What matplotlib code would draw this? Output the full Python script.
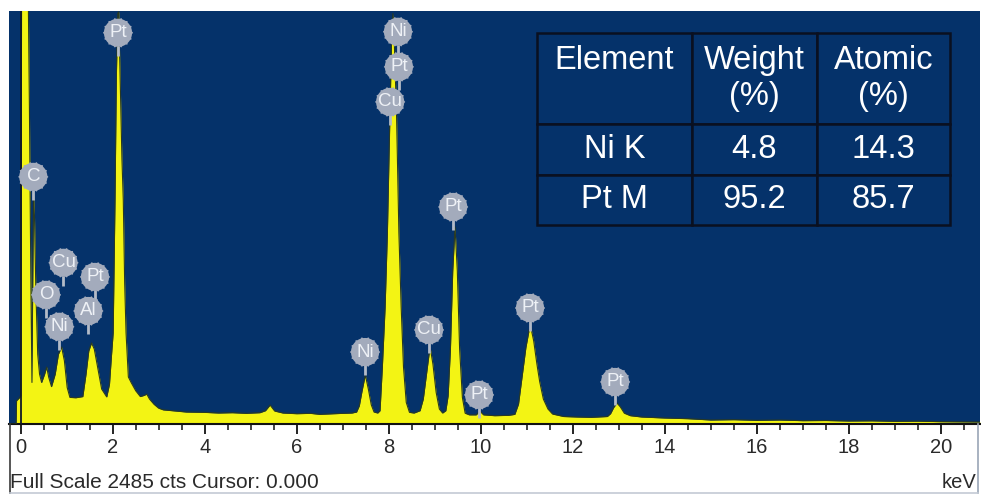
import numpy as np
import matplotlib.pyplot as plt
from matplotlib.lines import Line2D
from matplotlib.path import Path
from matplotlib.transforms import offset_copy

plt.rcParams["font.family"] = ["Liberation Sans", "DejaVu Sans"]

energy_kev = [
    -0.25, -0.10, -0.09, -0.02, 0.00, 0.02, 0.16, 0.19, 0.22, 0.245,
    0.26, 0.28, 0.30, 0.33, 0.37, 0.41, 0.455, 0.52, 0.565, 0.61,
    0.67, 0.75, 0.82, 0.89, 0.95, 1.01, 1.07, 1.20, 1.35, 1.42,
    1.48, 1.54, 1.60, 1.68, 1.76, 1.87, 1.93, 1.97, 2.01, 2.05,
    2.08, 2.11, 2.13, 2.16, 2.20, 2.23, 2.26, 2.29, 2.34, 2.40,
    2.50, 2.60, 2.68, 2.74, 2.80, 2.90, 3.00, 3.10, 3.30, 3.60,
    4.00, 4.30, 4.60, 4.90, 5.20, 5.32, 5.42, 5.52, 5.70, 6.00,
    6.30, 6.50, 6.80, 7.00, 7.20, 7.30, 7.36, 7.42, 7.49, 7.56,
    7.62, 7.68, 7.76, 7.81, 7.86, 7.92, 7.97, 8.02, 8.06, 8.09,
    8.12, 8.17, 8.22, 8.27, 8.32, 8.38, 8.45, 8.55, 8.68, 8.75,
    8.82, 8.88, 8.91, 8.96, 9.03, 9.10, 9.17, 9.24, 9.29, 9.34,
    9.39, 9.44, 9.49, 9.54, 9.60, 9.66, 9.75, 9.90, 9.98, 10.06,
    10.30, 10.60, 10.74, 10.82, 10.90, 10.98, 11.05, 11.09, 11.15, 11.22,
    11.28, 11.36, 11.46, 11.56, 11.80, 12.10, 12.40, 12.75, 12.82, 12.89,
    12.96, 13.03, 13.12, 13.25, 13.50, 14.00, 14.50, 15.00, 15.50, 16.00,
    16.50, 17.00, 17.50, 18.00, 18.50, 19.00, 19.50, 20.00, 20.50, 20.85,
]
counts = [
    0, 0, 140, 160, 170, 2700, 2700, 1900, 900, 250,
    800, 1380, 1250, 800, 420, 300, 250, 300, 343, 280,
    225, 300, 420, 463, 380, 220, 160, 158, 165, 300,
    440, 488, 450, 330, 210, 163, 240, 400, 548, 1348,
    2100, 2470, 2480, 2100, 1600, 1348, 850, 548, 283, 250,
    200, 165, 172, 180, 150, 118, 95, 85, 80, 72,
    70, 66, 68, 64, 68, 80, 114, 78, 66, 62,
    64, 58, 62, 64, 66, 72, 110, 200, 295, 205,
    115, 72, 66, 80, 340, 700, 1150, 1800, 2300, 2470,
    2300, 1848, 1150, 700, 343, 130, 70, 66, 80, 150,
    300, 430, 445, 360, 190, 90, 66, 80, 170, 450,
    920, 1186, 920, 450, 160, 65, 55, 55, 78, 55,
    50, 52, 58, 120, 290, 460, 565, 578, 500, 360,
    255, 150, 90, 60, 45, 42, 40, 45, 62, 100,
    126, 104, 65, 50, 42, 36, 32, 24, 26, 22,
    24, 20, 21, 18, 19, 16, 17, 14, 13, 12,
]

# peak markers (element, keV, counts at label centre)
label_names = ["C", "O", "Cu", "Ni", "Al", "Pt", "Pt",
               "Ni", "Pt", "Cu", "Ni", "Cu", "Pt", "Pt", "Pt", "Pt"]
label_kev = [0.274, 0.55, 0.93, 0.84, 1.47, 1.615, 2.115,
             8.20, 8.22, 8.03, 7.485, 8.875, 9.40, 9.963, 11.07, 12.92]
label_cts = [1487, 777, 970, 585, 680, 885, 2354,
             2360, 2149, 1938, 433, 566, 1306, 175, 698, 253]

# quantification table
table_header = ["Element\n ", "Weight\n(%)", "Atomic\n(%)"]
table_lines = ["Ni K", "Pt M"]
weight_pct = [4.8, 95.2]
atomic_pct = [14.3, 85.7]

FULL_SCALE = 2485
CURSOR_KEV = 0.0

BG = "#05326a"
YELLOW = "#f3f414"


def gear_marker(teeth=14, bump=0.07):
    t = np.linspace(0, 2 * np.pi, 200)
    r = 1 + bump * np.maximum(np.cos(teeth * t), 0) ** 3
    return Path(np.column_stack([r * np.cos(t), r * np.sin(t)]), closed=True)


W, H = 981, 495
fig = plt.figure(figsize=(W / 100, H / 100), dpi=100)
fig.patch.set_facecolor("white")
ax = fig.add_axes([9 / W, 71 / H, 971 / W, 413 / H])
ax.set_facecolor(BG)

ax.fill_between(energy_kev, counts, 0, color=YELLOW, lw=0, zorder=2)
ax.plot(energy_kev, counts, color="#2a3a22", lw=0.8, zorder=3)
ax.axvline(CURSOR_KEV, color="#101826", lw=1.3, zorder=4)

ax.set_xlim(-0.254, 20.85)
ax.set_ylim(0, FULL_SCALE)
ax.set_xticks(range(0, 21, 2))
ax.set_xticks([i * 0.5 for i in range(42)], minor=True)
ax.set_yticks([])
ax.tick_params(axis="x", which="major", direction="out", length=7, width=1.3,
               color="#111111", labelsize=14.5, labelcolor="#2a2a2a", pad=3)
ax.tick_params(axis="x", which="minor", direction="out", length=4, width=1.1,
               color="#111111")
for side in ["left", "top", "right"]:
    ax.spines[side].set_visible(False)
ax.spines["bottom"].set_color("#111111")
ax.spines["bottom"].set_linewidth(1.5)

# element markers
pin = offset_copy(ax.transData, fig=fig, x=0, y=-18, units="dots")
ax.plot(label_kev, label_cts, ls="none", marker="|", markersize=7,
        markeredgewidth=2, color="#b3bbc8", transform=pin, zorder=6)
ax.scatter(label_kev, label_cts, s=470, marker=gear_marker(), c="#a3abbc",
           edgecolors="none", zorder=7)
for name, e, c in zip(label_names, label_kev, label_cts):
    ax.text(e, c, name, ha="center", va="center", fontsize=13.5,
            color="#eef1f6", zorder=8)

# quantification table
cell_text = [[n, f"{w:.1f}", f"{a:.1f}"]
             for n, w, a in zip(table_lines, weight_pct, atomic_pct)]
tbl = ax.table(cellText=cell_text, colLabels=table_header, cellLoc="center",
               bbox=[(537 - 9) / 971, (424 - 225) / 413, 413 / 971, 192 / 413],
               zorder=9)
tbl.auto_set_font_size(False)
tbl.set_fontsize(23.5)
col_w = [155, 125, 133]
for (r, c), cell in tbl.get_celld().items():
    cell.set_facecolor(BG)
    cell.set_edgecolor("#0a1020")
    cell.set_linewidth(1.8)
    cell.get_text().set_color("white")
    cell.set_width(col_w[c])
    cell.set_height(91 if r == 0 else 50.5)

fig.text(10 / W, 1 - 483 / H, f"Full Scale {FULL_SCALE} cts Cursor: {CURSOR_KEV:.3f}",
         ha="left", va="center", fontsize=15, color="#2a2a2a")
fig.text(976 / W, 1 - 483 / H, "keV", ha="right", va="center",
         fontsize=14.5, color="#2a2a2a")

# frame of the capture window
fig.add_artist(Line2D([10 / W, 10 / W], [2 / H, 71 / H], color="#3a3a3a", lw=1.2))
fig.add_artist(Line2D([978 / W, 978 / W], [2 / H, 71 / H], color="#9aa6b6", lw=1.2))
fig.add_artist(Line2D([10 / W, 978 / W], [2 / H, 2 / H], color="#c3cad4", lw=1.2))

fig.savefig("out.png", dpi=100, facecolor=fig.get_facecolor())
